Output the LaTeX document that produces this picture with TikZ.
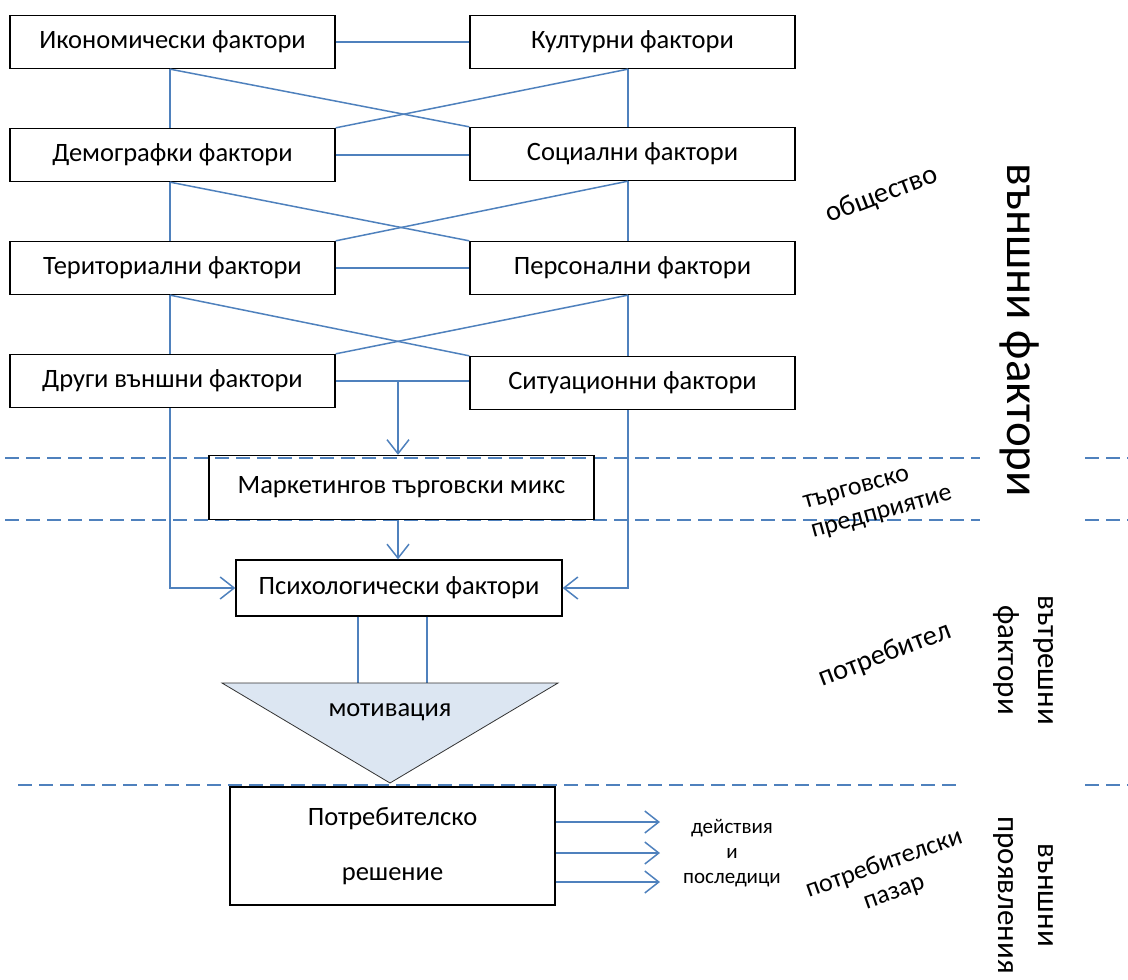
\documentclass[tikz,border=0pt]{standalone}
\usepackage{fontspec}
\setmainfont{Carlito}
\usetikzlibrary{arrows.meta,calc}
\definecolor{lb}{HTML}{4F81BD}
\definecolor{trifill}{HTML}{DCE6F2}
\begin{document}
\begin{tikzpicture}[x=1pt,y=-1pt,
 box/.style={draw=black,line width=1.3pt,minimum width=325pt,minimum height=53pt,inner sep=0pt,font=\fontsize{26.5}{30}\selectfont},
 conn/.style={draw=lb,line width=1.5pt},
 arr/.style={conn,-{Straight Barb[length=14pt,width=22pt,line width=1.5pt]}},
 sepline/.style={draw=lb,line width=1.5pt,dash pattern=on 14pt off 7pt},
 lab/.style={font=\fontsize{26}{30}\selectfont,align=center,inner sep=0pt},
 vlab/.style={font=\fontsize{31}{40}\selectfont,align=center,inner sep=0pt,rotate=-90}]
\useasboundingbox (0,0) rectangle (1128,980);
% separator lines
\draw[sepline] (5,458) -- (980,458);
\draw[sepline] (1085,458) -- (1128,458);
\draw[sepline] (5,520) -- (980,520);
\draw[sepline] (1085,520) -- (1128,520);
\draw[sepline] (18,785) -- (960,785);
\draw[sepline] (1085,785) -- (1128,785);
% boxes
\node[box] (a1) at (172.5,42) {Икономически фактори};
\node[box] (b1) at (632.5,42) {Културни фактори};
\node[box] (a2) at (172.5,155) {Демографки фактори};
\node[box] (b2) at (632.5,154) {Социални фактори};
\node[box] (a3) at (172.5,268) {Териториални фактори};
\node[box] (b3) at (632.5,268) {Персонални фактори};
\node[box] (a4) at (172.5,381) {Други външни фактори};
\node[box] (b4) at (632.5,383) {Ситуационни фактори};
\node[box,minimum width=385pt,minimum height=64pt] (mk) at (401.5,487.5) {Маркетингов търговски микс};
\node[box,minimum width=326pt,minimum height=56pt] (ps) at (399,588) {Психологически фактори};
\coordinate (vl) at (170,0);
\coordinate (vr) at (628,0);
\coordinate (md) at (398,0);
% connectors
\foreach \u/\l in {1/2,2/3,3/4}{
  \draw[conn] (a\u.east) -- (a\u.east -| b\u.west);
  \draw[conn] (a\u.south -| vl) -- (a\l.north -| vl);
  \draw[conn] (b\u.south -| vr) -- (b\l.north -| vr);
  \draw[conn] (a\u.south -| vl) -- (b\l.north west);
  \draw[conn] (b\u.south -| vr) -- (a\l.north east);
}
\draw[conn] (a4.east) -- (a4.east -| b4.west);
\draw[arr] (a4.east -| md) -- (mk.north -| md);
\draw[arr] (mk.south -| md) -- (ps.north -| md);
\draw[arr] (a4.south -| vl) |- (ps.west);
\draw[arr] (b4.south -| vr) |- (ps.east);
% triangle
\coordinate (t1) at (222,683);
\coordinate (t2) at (558,683);
\coordinate (t3) at (390,783);
\coordinate (l1) at (358,683);
\coordinate (l2) at (427,683);
\draw[conn] (ps.south -| l1) -- (l1);
\draw[conn] (ps.south -| l2) -- (l2);
\draw[fill=trifill,draw=black!80,line width=0.8pt] (t1) -- (t2) -- (t3) -- cycle;
\node[font=\fontsize{26.5}{30}\selectfont] (mot) at (390,712) {мотивация};
% decision
\node[box,minimum width=325pt,minimum height=118pt,align=center,font=\fontsize{26.5}{55}\selectfont] (dec) at (392.5,846) {Потребителско\\решение};
\coordinate (r1) at (660,822);
\coordinate (r2) at (660,853);
\coordinate (r3) at (660,882);
\draw[arr] (dec.east |- r1) -- (r1);
\draw[arr] (dec.east |- r2) -- (r2);
\draw[arr] (dec.east |- r3) -- (r3);
\node[font=\fontsize{21}{25}\selectfont,align=center,inner sep=0pt] (act) at (732,853) {действия\\и\\последици};
% side labels
\node[lab,rotate=21,font=\fontsize{28.5}{32}\selectfont] (soc) at (882,195) {общество};
\node[lab,rotate=15.5,align=left] (ent) at (878,500) {търговско\\предприятие};
\node[lab,rotate=21,font=\fontsize{28.5}{32}\selectfont] (cons) at (885,655) {потребител};
\node[lab,rotate=19.5] (mkt) at (889,878) {потребителски\\пазар};
\node[vlab,font=\fontsize{47}{56}\selectfont] (ext) at (1020,330) {външни фактори};
\node[vlab] (int) at (1023,660) {вътрешни\\фактори};
\node[vlab] (out) at (1023,895) {външни\\проявления};
\end{tikzpicture}
\end{document}
